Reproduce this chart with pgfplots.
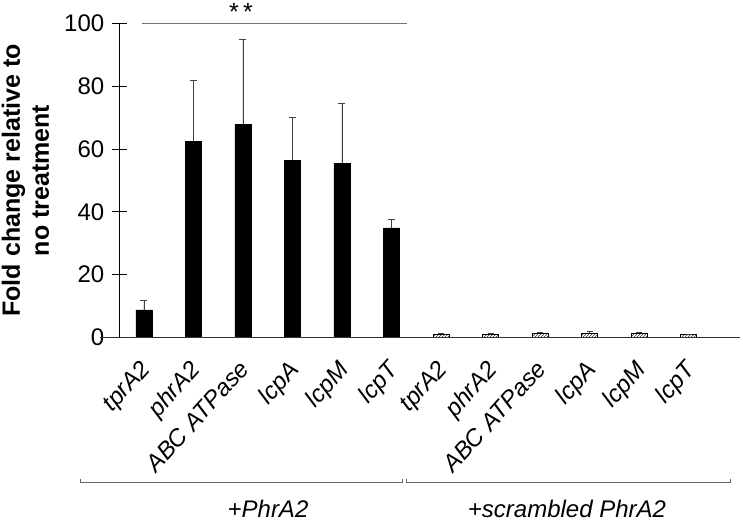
\documentclass[border=0pt]{standalone}
\usepackage{fontspec}
\setmainfont{Liberation Sans}
\usepackage{pgfplots}
\usepackage{pgfplotstable}
\pgfplotsset{compat=1.18}
\usetikzlibrary{patterns}

\pgfplotstableread{
x y e
0 8.8 2.9
1 62.4 19.3
2 67.9 27.1
3 56.4 13.5
4 55.4 19.0
5 34.9 2.6
}\grpA

\pgfplotstableread{
x y e
6 1.1 0.3
7 1.0 0.2
8 1.3 0.3
9 1.5 0.4
10 1.3 0.3
11 0.9 0.1
}\grpB

\begin{document}
\begin{tikzpicture}
\begin{axis}[
  scale only axis,
  width=621.2pt, height=314.2pt,
  xmin=-0.5, xmax=12.05, ymin=0, ymax=100,
  clip=false,
  axis x line=bottom, axis y line=left,
  axis line style={-},
  x axis line style={draw=none},
  y axis line style={black, line width=0.8pt},
  ytick={0,20,40,60,80,100},
  ytick align=center,
  ytick style={black, line width=0.8pt},
  major tick length=15pt,
  xtick={0,1,2,3,4,5,6,7,8,9,10,11},
  xtick style={draw=none},
  xticklabels={tprA2,phrA2,ABC ATPase,lcpA,lcpM,lcpT,tprA2,phrA2,ABC ATPase,lcpA,lcpM,lcpT},
  xticklabel style={rotate=48, anchor=north east, font=\itshape\fontsize{24}{28}\selectfont, inner sep=0pt, xshift=-8.2pt, yshift=0pt},
  yticklabel style={font=\fontsize{24}{28}\selectfont, xshift=-4pt},
  /pgf/number format/assume math mode=true,
  ybar, bar width=16pt, bar shift=0pt,
]
\addplot[fill=black, draw=black,
  error bars/.cd, y dir=plus, y explicit,
  error bar style={line width=0.8pt, draw=black!75},
  error mark options={rotate=90, mark size=3.5pt, line width=0.8pt, draw=black!75}]
  table[x=x, y=y, y error=e] {\grpA};
\addplot[pattern=north east lines, draw=black, line width=0.6pt,
  error bars/.cd, y dir=plus, y explicit,
  error bar style={line width=0.6pt, draw=black!75},
  error mark options={rotate=90, mark size=3pt, line width=0.6pt, draw=black!75}]
  table[x=x, y=y, y error=e] {\grpB};

% x axis line
\draw[black!80, line width=0.8pt] (axis cs:-0.889,0) -- (axis cs:12.05,0);
% significance
\draw[black!55, line width=0.8pt] (axis cs:-0.05,100) -- (axis cs:5.31,100);
\node[font=\fontsize{25}{29}\selectfont] at (axis cs:1.96,103.6) {*\,*};
% group brackets
\draw[black!60, line width=0.8pt] (axis cs:-1.293,-44.9) -- (axis cs:-1.293,-46.2) -- (axis cs:5.212,-46.2) -- (axis cs:5.212,-44.9);
\draw[black!60, line width=0.8pt] (axis cs:5.293,-44.9) -- (axis cs:5.293,-46.2) -- (axis cs:11.838,-46.2) -- (axis cs:11.838,-44.9);
\node[anchor=base, font=\itshape\fontsize{24}{29}\selectfont] at (axis cs:2.505,-57.2) {+PhrA2};
\node[anchor=base, font=\itshape\fontsize{24}{29}\selectfont] at (axis cs:8.545,-57.2) {+scrambled PhrA2};
% y label
\node[rotate=90, align=center, font=\bfseries\fontsize{25}{29}\selectfont] at (rel axis cs:-0.151,0.5) {Fold change relative to\\no treatment};
% bounding
\coordinate (bl) at (axis cs:-2.909,-58.44);
\coordinate (tr) at (axis cs:12.101,107.42);
\end{axis}
\pgfresetboundingbox
\useasboundingbox (bl) rectangle (tr);
\end{tikzpicture}
\end{document}
